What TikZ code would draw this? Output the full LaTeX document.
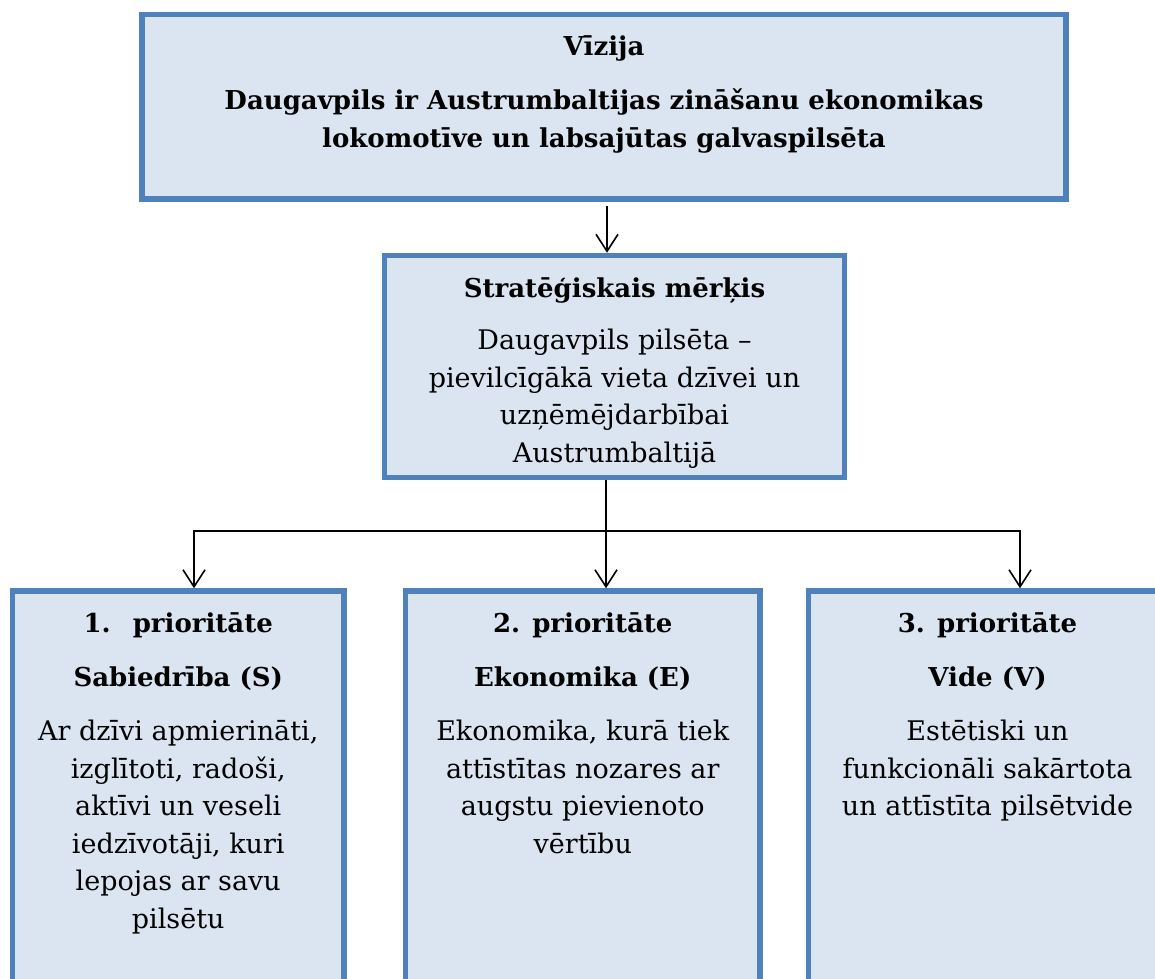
\documentclass[tikz,border=0pt]{standalone}
\usepackage{fontspec}
\setmainfont{DejaVu Serif}
\definecolor{panelblue}{RGB}{79,129,189}
\definecolor{panelfill}{RGB}{219,229,241}
\usetikzlibrary{positioning, arrows.meta}
\newcommand\headline[1]{{\fontsize{26}{37.5}\selectfont\bfseries #1}}

\begin{document}
\begin{tikzpicture}[
    x=1pt, y=-1pt,
    panel/.style={draw=panelblue, fill=panelfill, line width=5.5pt, inner sep=0pt},
    blurb/.style={align=center, inner sep=0pt,
      font=\fontsize{27}{37.5}\selectfont},
    link/.style={line width=1.6pt, -{Straight Barb[length=17pt,width=22pt]}},
  ]
    \useasboundingbox (0,0) rectangle (1155,978);
    \clip (0,0) rectangle (1155,978);

    % boxes
    \node[panel, minimum width=924pt, minimum height=184.5pt] (vision) at (604,106.75) {};
    \node[panel, minimum width=460pt, minimum height=222pt] (goal) at (614.5,366.5) {};
    \node[panel, minimum width=331.5pt, minimum height=420pt] (prio1) at (178.25,801) {};
    \node[panel, minimum width=354.5pt, minimum height=420pt] (prio2) at (582.75,801) {};
    \node[panel, minimum width=358pt, minimum height=420pt] (prio3) at (987.5,801) {};

    % texts
    \node[blurb, below=17.75pt of vision.north] (visiontext) {\headline{\strut Vīzija}\\[16.5pt]
      \headline{Daugavpils ir Austrumbaltijas zināšanu ekonomikas}\\
      \headline{lokomotīve un labsajūtas galvaspilsēta}};
    \begin{scope}
      \clip (goal.north west) rectangle ([yshift=11pt]goal.south east);
      \node[blurb, below=18.75pt of goal.north] (goaltext) {\headline{\strut Stratēģiskais mērķis}\\[14.5pt]
        Daugavpils pilsēta –\\
        pievilcīgākā vieta dzīvei un\\
        uzņēmējdarbībai\\
        Austrumbaltijā};
    \end{scope}
    \node[blurb, below=18.25pt of prio1.north] (prio1text) {\headline{\strut 1.\hspace{22pt}prioritāte}\\[16.5pt]
      \headline{Sabiedrība (S)}\\[16.5pt]
      Ar dzīvi apmierināti,\\
      izglītoti, radoši,\\
      aktīvi un veseli\\
      iedzīvotāji, kuri\\
      lepojas ar savu\\
      pilsētu};
    \node[blurb, below=18.25pt of prio2.north] (prio2text) {\headline{\strut 2. prioritāte}\\[16.5pt]
      \headline{Ekonomika (E)}\\[16.5pt]
      Ekonomika, kurā tiek\\
      attīstītas nozares ar\\
      augstu pievienoto\\
      vērtību};
    \node[blurb, below=18.25pt of prio3.north] (prio3text) {\headline{\strut 3. prioritāte}\\[16.5pt]
      \headline{Vide (V)}\\[16.5pt]
      Estētiski un\\
      funkcionāli sakārtota\\
      un attīstīta pilsētvide};

    % connectors
    \coordinate (trunk) at (607,0);
    \coordinate (fork) at (606,531);
    \draw[link, shorten <=4.5pt] (vision.south -| trunk) -- (goal.north -| trunk);
    \draw[link] (goal.south -| fork) -- (prio2.north -| fork);
    \draw[link] (fork) -| ([xshift=15.75pt]prio1.north);
    \draw[link] (fork) -| ([xshift=32.5pt]prio3.north);
  \end{tikzpicture}
\end{document}
